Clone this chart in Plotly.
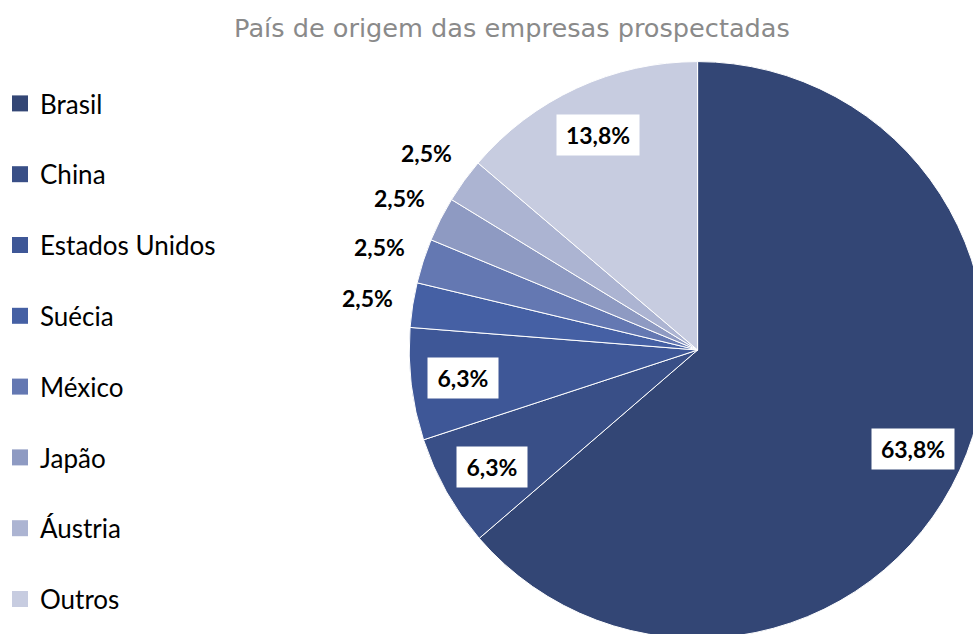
import math
import plotly.graph_objects as go

# ---- data ----
labels = ["Brasil", "China", "Estados Unidos", "Suécia", "México", "Japão", "Áustria", "Outros"]
values = [63.8, 6.3, 6.3, 2.5, 2.5, 2.5, 2.5, 13.8]
value_text = ["63,8%", "6,3%", "6,3%", "2,5%", "2,5%", "2,5%", "2,5%", "13,8%"]
colors = ["#334675", "#394f87", "#3e5797", "#4560a4", "#6478b2", "#8e9ac2", "#acb4d2", "#c7cce0"]
title_text = "País de origem das empresas prospectadas"

# ---- layout constants (pixels) ----
W, H = 990, 645
CX, CY, R = 697, 350, 289
INSIDE_F, OUTSIDE_F = 0.82, 1.16
LABEL_FONT = "Lato"

fig = go.Figure()

fig.add_trace(go.Pie(
    labels=labels,
    values=values,
    sort=False,
    direction="clockwise",
    rotation=0,
    marker=dict(colors=colors, line=dict(color="white", width=1)),
    textinfo="none",
    hoverinfo="label+percent",
    showlegend=False,
    domain=dict(x=[(CX - R) / W, (CX + R) / W], y=[1 - (CY + R) / H, 1 - (CY - R) / H]),
))

# legend entries (one per category, so each can be spaced)
for lab, col in zip(labels, colors):
    fig.add_trace(go.Scatter(
        x=[None], y=[None], mode="markers", name=lab, legendgroup=lab,
        marker=dict(symbol="square", size=16, color=col, line=dict(width=0)),
        hoverinfo="skip",
    ))

# data labels placed at slice mid-angles
total = sum(values)
cum = 0.0
annotations = []
for v, t in zip(values, value_text):
    mid = (cum + v / 2) / total * 2 * math.pi
    cum += v
    inside = v / total > 0.05
    f = INSIDE_F if inside else OUTSIDE_F
    px = CX + f * R * math.sin(mid)
    py = CY - f * R * math.cos(mid)
    ann = dict(
        x=px / W, y=1 - py / H, xref="paper", yref="paper",
        text=f"<b>{t}</b>", showarrow=False,
        font=dict(family=LABEL_FONT, size=23, color="black"),
        xanchor="center", yanchor="middle",
    )
    if inside:
        ann.update(bgcolor="white", width=12 * len(t) + 22, height=40, borderpad=0)
    annotations.append(ann)

fig.update_layout(
    width=W, height=H,
    margin=dict(l=0, r=0, t=0, b=0),
    paper_bgcolor="white", plot_bgcolor="white",
    xaxis=dict(visible=False), yaxis=dict(visible=False),
    title=dict(
        text=title_text, x=512 / W, xanchor="center", y=1 - 28 / H, yanchor="middle",
        xref="container", yref="container",
        font=dict(family="DejaVu Sans", size=25.6, color="#8a8a8a"),
    ),
    legend=dict(
        x=-2 / W, xanchor="left", y=1 - 80 / H, yanchor="top",
        font=dict(family="Lato", size=26, color="black"),
        tracegroupgap=34, bgcolor="rgba(0,0,0,0)", itemwidth=30,
    ),
    annotations=annotations,
)

fig.write_html(
    "out.html",
    config={"displayModeBar": False},
    post_script="document.body.style.margin='0';document.body.style.overflow='hidden';"
                "document.documentElement.style.overflow='hidden';",
)
